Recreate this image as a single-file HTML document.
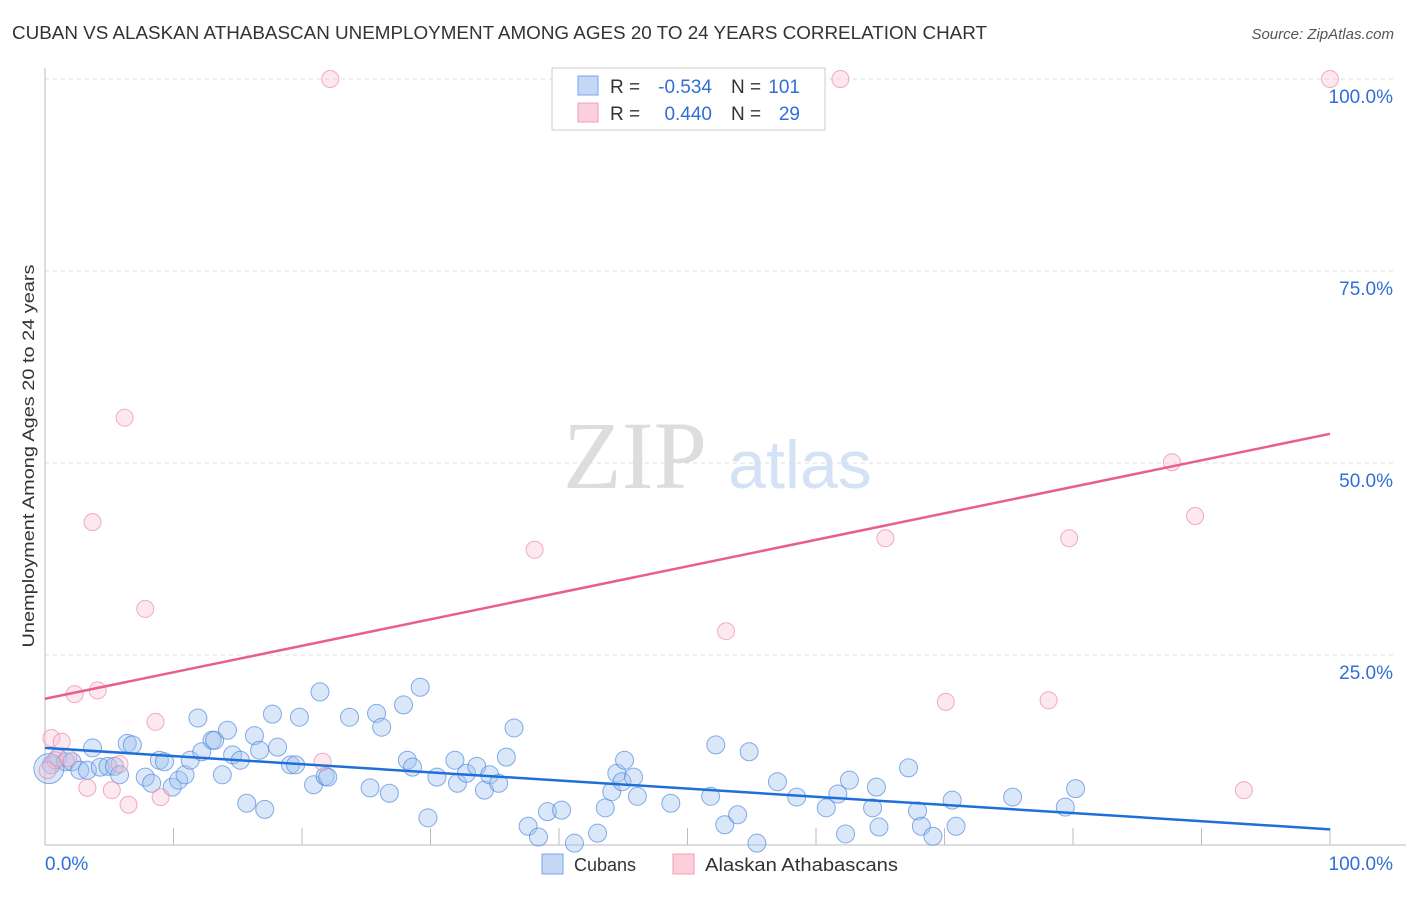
<!DOCTYPE html>
<html><head><meta charset="utf-8"><style>
body{margin:0;background:#fff;font-family:"Liberation Sans",sans-serif}
svg text{font-family:"Liberation Sans",sans-serif}
</style></head><body>
<svg id="c" width="1406" height="892">
<text x="12" y="39" font-size="18" fill="#333" textLength="975" lengthAdjust="spacingAndGlyphs">CUBAN VS ALASKAN ATHABASCAN UNEMPLOYMENT AMONG AGES 20 TO 24 YEARS CORRELATION CHART</text>
<text x="1394" y="39" font-size="15" fill="#555" font-style="italic" text-anchor="end">Source: ZipAtlas.com</text>
<text x="635" y="488" font-size="96" fill="#ddd" text-anchor="middle" style="font-family:'Liberation Serif',serif">ZIP</text>
<text x="800" y="488" font-size="68" fill="#d4e2f5" text-anchor="middle">atlas</text>
<g id="grid"></g><g id="pts"></g><g id="lines"></g>
<text transform="translate(34,456) rotate(-90)" font-size="17" fill="#333" text-anchor="middle" textLength="383" lengthAdjust="spacingAndGlyphs">Unemployment Among Ages 20 to 24 years</text>
<g>
<rect x="552" y="68" width="273" height="62" fill="#fff" stroke="#ccc"/>
<rect x="578" y="76" width="20" height="19" fill="#c3d8f5" stroke="#7aa6e8"/>
<rect x="578" y="103" width="20" height="19" fill="#fbd0dc" stroke="#f0a0b6"/>
<text x="610" y="93" font-size="19" fill="#333">R =</text>
<text x="712" y="93" font-size="19" fill="#2f6fd6" text-anchor="end">-0.534</text>
<text x="731" y="93" font-size="19" fill="#333">N =</text>
<text x="800" y="93" font-size="19" fill="#2f6fd6" text-anchor="end">101</text>
<text x="610" y="120" font-size="19" fill="#333">R =</text>
<text x="712" y="120" font-size="19" fill="#2f6fd6" text-anchor="end">0.440</text>
<text x="731" y="120" font-size="19" fill="#333">N =</text>
<text x="800" y="120" font-size="19" fill="#2f6fd6" text-anchor="end">29</text>
</g>
<g>
<rect x="542" y="854" width="21" height="20" fill="#c3d8f5" stroke="#7aa6e8"/>
<text x="574" y="871" font-size="18" fill="#333">Cubans</text>
<rect x="673" y="854" width="21" height="20" fill="#fbd0dc" stroke="#f0a0b6"/>
<text x="705" y="871" font-size="18" fill="#333" textLength="193" lengthAdjust="spacingAndGlyphs">Alaskan Athabascans</text>
</g>
</svg>
<script>
const blueX=[0.5,1.0,1.6,2.1,2.7,3.3,3.7,4.3,4.9,5.4,5.8,6.4,6.8,7.8,8.3,8.9,9.3,9.9,10.4,10.9,11.3,11.9,12.2,13.0,13.2,13.8,14.2,14.6,15.2,15.7,16.3,16.7,17.1,17.7,18.1,19.1,19.5,19.8,20.9,21.4,21.8,22.0,23.7,25.3,25.8,26.2,26.8,27.9,28.2,28.6,29.2,29.8,30.5,31.9,32.1,32.8,33.6,34.2,34.6,35.3,35.9,36.5,37.6,38.4,39.1,40.2,41.2,43.0,43.6,44.1,44.5,44.9,45.1,45.8,46.1,48.7,51.8,52.2,52.9,53.9,54.8,55.4,57.0,58.5,60.8,61.7,62.3,62.6,64.4,64.7,64.9,67.2,67.9,68.2,69.1,70.6,70.9,75.3,79.4,80.2,0.3];
const blueY=[10.7,11.6,11.1,11.1,10.0,10.0,12.9,10.4,10.5,10.5,9.4,13.5,13.3,9.1,8.3,11.3,11.1,7.8,8.7,9.4,11.3,16.8,12.4,13.9,13.9,9.4,15.2,12.0,11.3,5.7,14.5,12.6,4.9,17.3,13.0,10.7,10.7,16.9,8.1,20.2,9.2,9.1,16.9,7.7,17.4,15.6,7.0,18.5,11.3,10.4,20.8,3.8,9.1,11.3,8.3,9.6,10.5,7.4,9.4,8.3,11.7,15.5,2.7,1.3,4.6,4.8,0.5,1.8,5.1,7.2,9.6,8.5,11.3,9.1,6.6,5.7,6.6,13.3,2.9,4.2,12.4,0.5,8.5,6.5,5.1,6.9,1.7,8.7,5.1,7.8,2.6,10.3,4.7,2.7,1.4,6.1,2.7,6.5,5.2,7.6,10.2];
const pinkX=[0.5,1.3,2.3,3.3,3.7,4.1,5.2,5.8,6.2,6.5,7.8,8.6,9.0,21.6,22.2,38.1,53.0,61.9,65.4,70.1,78.1,79.7,87.7,89.5,93.3,100,0.8,0.2,1.8];
const pinkY=[14.2,13.7,19.9,7.7,42.3,20.4,7.4,10.8,55.9,5.5,31.0,16.3,6.5,11.1,100,38.7,28.1,100,40.2,18.9,19.1,40.2,50.1,43.1,7.4,100,11.3,10.0,11.6];
const blueTrend=[12.9,2.3];
const pinkTrend=[19.3,53.8];
const yTicks=[25,50,75,100];
const yTickLabels=["25.0%","50.0%","75.0%","100.0%"];
const xMinorTicks=[10,20,30,40,50,60,70,80,90,100];
const X=v=>45+v*12.85, Y=v=>847-v*7.68;
const NS="http://www.w3.org/2000/svg";
function mk(t,a,p){const e=document.createElementNS(NS,t);for(const k in a)e.setAttribute(k,a[k]);p.appendChild(e);return e;}
const g=document.getElementById('grid');
yTicks.forEach((t,i)=>{
 const l=mk('line',{x1:45,x2:1393,y1:Y(t),y2:Y(t),stroke:'#ddd','stroke-dasharray':'4,4'},g);
 
 
 const tx=mk('text',{x:1393,y:Y(t)+24,'font-size':19,fill:'#2f6fd6','text-anchor':'end'},g);
 tx.textContent=yTickLabels[i];
 
 
});
let ax=mk('line',{x1:45,x2:45,y1:68,y2:845,stroke:'#bbb'},g);


ax=mk('line',{x1:45,x2:1406,y1:845,y2:845,stroke:'#bbb'},g);


xMinorTicks.forEach(t=>{
 const l=mk('line',{x1:X(t),x2:X(t),y1:828,y2:845,stroke:'#bbb'},g);
 
 
});
let t0=mk('text',{x:45,y:870,'font-size':19,fill:'#2f6fd6'},g);t0.textContent='0.0%';


t0=mk('text',{x:1393,y:870,'font-size':19,fill:'#2f6fd6','text-anchor':'end'},g);t0.textContent='100.0%';


const p=document.getElementById('pts');
blueX.forEach((x,i)=>{
 const big=i===blueX.length-1;
 const c=mk('circle',{cx:X(x),cy:Y(blueY[i]),r:big?15:9,fill:'rgba(160,195,240,0.4)',stroke:'rgba(70,130,220,0.65)','stroke-width':1},p);
 
 
});
pinkX.forEach((x,i)=>{
 const c=mk('circle',{cx:X(x),cy:Y(pinkY[i]),r:8.5,fill:'rgba(250,190,210,0.35)',stroke:'rgba(235,130,160,0.65)','stroke-width':1},p);
 
 
});
const L=document.getElementById('lines');
let bl=mk('line',{x1:X(0),y1:Y(blueTrend[0]),x2:X(100),y2:Y(blueTrend[1]),stroke:'#1f6fd8','stroke-width':2.5},L);


let pl=mk('line',{x1:X(0),y1:Y(pinkTrend[0]),x2:X(100),y2:Y(pinkTrend[1]),stroke:'#e8608a','stroke-width':2.5},L);


</script>
</body></html>
